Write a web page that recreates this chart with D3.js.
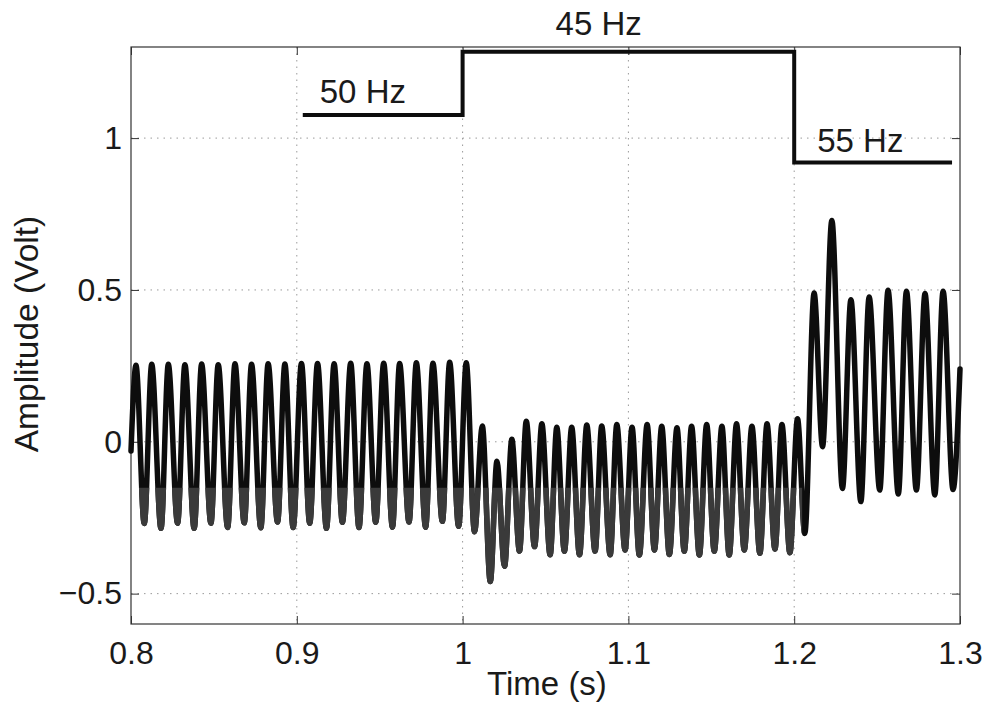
<!DOCTYPE html>
<html>
<head>
<meta charset="utf-8">
<script src="https://cdn.jsdelivr.net/npm/d3@7"></script>
<style>
  html, body { margin: 0; padding: 0; background: #fff; }
  svg { display: block; font-family: "Liberation Sans", Arial, Helvetica, sans-serif; }
</style>
</head>
<body>
<svg id="chart" width="988" height="705"></svg>
<script>
// Voltage trace, as [time (s), amplitude (V)] turning points of the waveform
const wave50 = [
  [0.8000,-0.030],
  [0.8030,0.252],[0.8080,-0.269],[0.8125,0.255],[0.8181,-0.285],[0.8225,0.255],[0.8281,-0.268],
  [0.8325,0.254],[0.8381,-0.285],[0.8426,0.256],[0.8482,-0.268],[0.8526,0.254],[0.8583,-0.282],
  [0.8627,0.257],[0.8683,-0.267],[0.8727,0.255],[0.8783,-0.283],[0.8827,0.257],[0.8884,-0.264],
  [0.8928,0.256],[0.8978,-0.282],[0.9028,0.258],[0.9078,-0.268],[0.9125,0.258],[0.9179,-0.285],
  [0.9225,0.257],[0.9275,-0.265],[0.9325,0.259],[0.9375,-0.282],[0.9423,0.257],[0.9476,-0.265],
  [0.9524,0.259],[0.9577,-0.281],[0.9620,0.258],[0.9677,-0.264],[0.9721,0.260],[0.9777,-0.281],
  [0.9821,0.259],[0.9878,-0.262],[0.9922,0.262],[0.9976,-0.278],[1.0022,0.260],[1.0072,-0.296]
];
const wave45 = [
  [1.0119,0.052],[1.0167,-0.460],[1.0207,-0.064],[1.0253,-0.410],[1.0297,0.008],[1.0343,-0.360],
  [1.0384,0.068],[1.0434,-0.345],[1.0478,0.059],[1.0528,-0.372],[1.0568,0.048],[1.0614,-0.360],
  [1.0658,0.048],[1.0705,-0.372],[1.0749,0.055],[1.0799,-0.360],[1.0839,0.052],[1.0890,-0.372],
  [1.0930,0.057],[1.0980,-0.356],[1.1022,0.048],[1.1066,-0.373],[1.1113,0.057],[1.1157,-0.356],
  [1.1201,0.051],[1.1247,-0.371],[1.1293,0.046],[1.1337,-0.360],[1.1381,0.051],[1.1428,-0.373],
  [1.1472,0.057],[1.1518,-0.360],[1.1564,0.051],[1.1608,-0.373],[1.1652,0.059],[1.1699,-0.356],
  [1.1745,0.051],[1.1793,-0.367],[1.1836,0.059],[1.1884,-0.353],[1.1926,0.057],[1.1974,-0.365],
  [1.2020,0.076],[1.2064,-0.302]
];
const wave55 = [
  [1.2120,0.490],[1.2171,-0.016],[1.2227,0.729],[1.2291,-0.154],[1.2342,0.468],[1.2402,-0.197],
  [1.2452,0.477],[1.2516,-0.159],[1.2566,0.499],[1.2628,-0.172],[1.2677,0.496],[1.2737,-0.159],
  [1.2789,0.488],[1.2848,-0.175],[1.2898,0.496],[1.2958,-0.157],[1.3000,0.240]
];

// Frequency step indicator
const freqLabels = ["50 Hz", "45 Hz", "55 Hz"];
const freqStart  = [0.9036, 1.0, 1.2];
const freqEnd    = [1.0, 1.2, 1.2952];
const freqLevel  = [1.076, 1.284, 0.920];

// Axes
const xTicks = [0.8, 0.9, 1.0, 1.1, 1.2, 1.3];
const xTickLabels = ["0.8", "0.9", "1", "1.1", "1.2", "1.3"];
const yTicks = [-0.5, 0, 0.5, 1];
const yTickLabels = ["\u22120.5", "0", "0.5", "1"];
const xTitle = "Time (s)";
const yTitle = "Amplitude (Volt)";

const svg = d3.select("#chart");
const L = 131, R = 960, T = 47, B = 624;
const x = d3.scaleLinear().domain([0.8, 1.3]).range([L, R]);
const y = d3.scaleLinear().domain([-0.6, 1.3]).range([B, T]);

// dotted grid
const grid = svg.append("g").attr("stroke", "#9a9a9a").attr("stroke-width", 1)
  .attr("stroke-dasharray", "1.5,5");
grid.selectAll("line.gx").data(xTicks.slice(1, -1)).join("line")
  .attr("x1", d => x(d)).attr("x2", d => x(d)).attr("y1", T).attr("y2", B);
grid.selectAll("line.gy").data(yTicks).join("line")
  .attr("x1", L).attr("x2", R).attr("y1", d => y(d)).attr("y2", d => y(d));

// axes with inward ticks
const fmtX = (d) => xTickLabels[xTicks.indexOf(d)];
const fmtY = (d) => yTickLabels[yTicks.indexOf(d)];
const fontSize = 32;

const gx = svg.append("g").attr("transform", `translate(0,${B})`)
  .call(d3.axisBottom(x).tickValues(xTicks).tickFormat(fmtX).tickSizeInner(-8).tickSizeOuter(0).tickPadding(17));
const gxTop = svg.append("g").attr("transform", `translate(0,${T})`)
  .call(d3.axisTop(x).tickValues(xTicks).tickFormat("").tickSizeInner(-8).tickSizeOuter(0));
const gy = svg.append("g").attr("transform", `translate(${L},0)`)
  .call(d3.axisLeft(y).tickValues(yTicks).tickFormat(fmtY).tickSizeInner(-8).tickSizeOuter(0).tickPadding(9));
const gyRight = svg.append("g").attr("transform", `translate(${R},0)`)
  .call(d3.axisRight(y).tickValues(yTicks).tickFormat("").tickSizeInner(-8).tickSizeOuter(0));

[gx, gxTop, gy, gyRight].forEach(g => {
  g.select(".domain").remove();
  g.selectAll(".tick line").attr("stroke", "#333").attr("stroke-width", 1);
  g.selectAll(".tick text").attr("font-size", fontSize).attr("fill", "#1a1a1a")
    .attr("font-family", "'Liberation Sans', Arial, sans-serif");
});

// plot box
svg.append("rect").attr("x", L).attr("y", T).attr("width", R - L).attr("height", B - T)
  .attr("fill", "none").attr("stroke", "#333").attr("stroke-width", 1.2);

// waveform
const trace = wave50.concat(wave45, wave55);
const line = d3.line().x(d => x(d[0])).y(d => y(d[1])).curve(d3.curveMonotoneX);

svg.append("path").attr("d", line(trace))
  .attr("fill", "none").attr("stroke", "#0d0d0d").attr("stroke-width", 5.5)
  .attr("stroke-linejoin", "round").attr("stroke-linecap", "round");

// lower band of the trace rendered in dark grey
svg.append("clipPath").attr("id", "lowband").append("rect")
  .attr("x", x(0.8) - 4).attr("y", y(-0.151))
  .attr("width", x(1.2048) - x(0.8) + 4).attr("height", B - y(-0.151) + 10);
svg.append("path").attr("d", line(trace)).attr("clip-path", "url(#lowband)")
  .attr("fill", "none").attr("stroke", "#3a3a3a").attr("stroke-width", 5.5)
  .attr("stroke-linejoin", "round").attr("stroke-linecap", "round");

// frequency step line
const stepPts = freqStart.map((s, i) => [s, freqLevel[i]]);
stepPts.push([freqEnd[freqEnd.length - 1], freqLevel[freqLevel.length - 1]]);
const stepLine = d3.line().x(d => x(d[0])).y(d => y(d[1])).curve(d3.curveStepAfter);
svg.append("path").attr("d", stepLine(stepPts))
  .attr("fill", "none").attr("stroke", "#0d0d0d").attr("stroke-width", 4)
  .attr("stroke-linejoin", "miter");

// frequency labels
const labelDx = [17, 93, 23];
const labelDy = [-12, -17, -10];
svg.selectAll("text.freq").data(freqLabels).join("text")
  .attr("class", "freq")
  .attr("x", (d, i) => x(freqStart[i]) + labelDx[i])
  .attr("y", (d, i) => y(freqLevel[i]) + labelDy[i])
  .attr("font-size", 33).attr("fill", "#1a1a1a")
  .text(d => d);

// axis titles
svg.append("text").attr("x", 547).attr("y", 695)
  .attr("text-anchor", "middle").attr("font-size", 33).attr("fill", "#1a1a1a")
  .text(xTitle);
svg.append("text").attr("transform", `translate(38,${334}) rotate(-90)`)
  .attr("text-anchor", "middle").attr("font-size", 33.5).attr("fill", "#1a1a1a")
  .text(yTitle);
</script>
</body>
</html>
